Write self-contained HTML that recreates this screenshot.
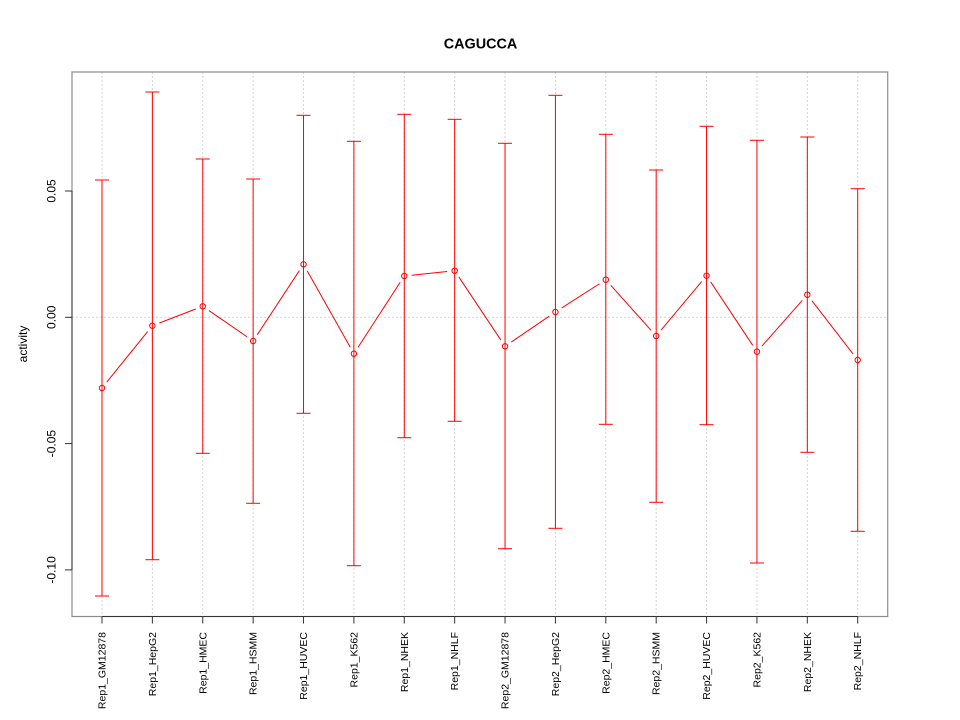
<!DOCTYPE html>
<html>
<head>
<meta charset="utf-8">
<style>
html,body{margin:0;padding:0;background:#fff;}
svg{display:block;}
text{font-family:"Liberation Sans",Arial,sans-serif;fill:#000;}
</style>
</head>
<body>
<svg width="960" height="720" viewBox="0 0 960 720" xmlns="http://www.w3.org/2000/svg">
<rect x="0" y="0" width="960" height="720" fill="#fff"/>
<!-- grid -->
<g stroke="#d3d3d3" stroke-width="1" stroke-dasharray="2,2" fill="none">
<line x1="102" y1="72" x2="102" y2="616.5"/>
<line x1="152.38" y1="72" x2="152.38" y2="616.5"/>
<line x1="202.76" y1="72" x2="202.76" y2="616.5"/>
<line x1="253.14" y1="72" x2="253.14" y2="616.5"/>
<line x1="303.52" y1="72" x2="303.52" y2="616.5"/>
<line x1="353.9" y1="72" x2="353.9" y2="616.5"/>
<line x1="404.28" y1="72" x2="404.28" y2="616.5"/>
<line x1="454.66" y1="72" x2="454.66" y2="616.5"/>
<line x1="505.04" y1="72" x2="505.04" y2="616.5"/>
<line x1="555.42" y1="72" x2="555.42" y2="616.5"/>
<line x1="605.8" y1="72" x2="605.8" y2="616.5"/>
<line x1="656.18" y1="72" x2="656.18" y2="616.5"/>
<line x1="706.56" y1="72" x2="706.56" y2="616.5"/>
<line x1="756.94" y1="72" x2="756.94" y2="616.5"/>
<line x1="807.32" y1="72" x2="807.32" y2="616.5"/>
<line x1="857.7" y1="72" x2="857.7" y2="616.5"/>
<line x1="72" y1="317.3" x2="887.7" y2="317.3"/>
</g>
<!-- error bars -->
<g stroke="#ff0000" stroke-width="1" fill="none">
<line x1="102" y1="180" x2="102" y2="596"/><line x1="95" y1="180" x2="109" y2="180"/><line x1="95" y1="596" x2="109" y2="596"/>
<line x1="152.38" y1="92" x2="152.38" y2="559.7"/><line x1="145.38" y1="92" x2="159.38" y2="92"/><line x1="145.38" y1="559.7" x2="159.38" y2="559.7"/>
<line x1="202.76" y1="159" x2="202.76" y2="453.3"/><line x1="195.76" y1="159" x2="209.76" y2="159"/><line x1="195.76" y1="453.3" x2="209.76" y2="453.3"/>
<line x1="253.14" y1="179" x2="253.14" y2="503.3"/><line x1="246.14" y1="179" x2="260.14" y2="179"/><line x1="246.14" y1="503.3" x2="260.14" y2="503.3"/>
<line x1="303.52" y1="115.3" x2="303.52" y2="413.3"/><line x1="296.52" y1="115.3" x2="310.52" y2="115.3"/><line x1="296.52" y1="413.3" x2="310.52" y2="413.3"/>
<line x1="353.9" y1="141.3" x2="353.9" y2="565.7"/><line x1="346.9" y1="141.3" x2="360.9" y2="141.3"/><line x1="346.9" y1="565.7" x2="360.9" y2="565.7"/>
<line x1="404.28" y1="114.3" x2="404.28" y2="437.7"/><line x1="397.28" y1="114.3" x2="411.28" y2="114.3"/><line x1="397.28" y1="437.7" x2="411.28" y2="437.7"/>
<line x1="454.66" y1="119.3" x2="454.66" y2="421.3"/><line x1="447.66" y1="119.3" x2="461.66" y2="119.3"/><line x1="447.66" y1="421.3" x2="461.66" y2="421.3"/>
<line x1="505.04" y1="143.3" x2="505.04" y2="548.7"/><line x1="498.04" y1="143.3" x2="512.04" y2="143.3"/><line x1="498.04" y1="548.7" x2="512.04" y2="548.7"/>
<line x1="555.42" y1="95.3" x2="555.42" y2="528.3"/><line x1="548.42" y1="95.3" x2="562.42" y2="95.3"/><line x1="548.42" y1="528.3" x2="562.42" y2="528.3"/>
<line x1="605.8" y1="134.3" x2="605.8" y2="424.3"/><line x1="598.8" y1="134.3" x2="612.8" y2="134.3"/><line x1="598.8" y1="424.3" x2="612.8" y2="424.3"/>
<line x1="656.18" y1="170" x2="656.18" y2="502.3"/><line x1="649.18" y1="170" x2="663.18" y2="170"/><line x1="649.18" y1="502.3" x2="663.18" y2="502.3"/>
<line x1="706.56" y1="126.3" x2="706.56" y2="424.7"/><line x1="699.56" y1="126.3" x2="713.56" y2="126.3"/><line x1="699.56" y1="424.7" x2="713.56" y2="424.7"/>
<line x1="756.94" y1="140.3" x2="756.94" y2="563"/><line x1="749.94" y1="140.3" x2="763.94" y2="140.3"/><line x1="749.94" y1="563" x2="763.94" y2="563"/>
<line x1="807.32" y1="137" x2="807.32" y2="452.3"/><line x1="800.32" y1="137" x2="814.32" y2="137"/><line x1="800.32" y1="452.3" x2="814.32" y2="452.3"/>
<line x1="857.7" y1="188.7" x2="857.7" y2="531.3"/><line x1="850.7" y1="188.7" x2="864.7" y2="188.7"/><line x1="850.7" y1="531.3" x2="864.7" y2="531.3"/>
</g>
<!-- connecting lines -->
<g stroke="#ff0000" stroke-width="1" fill="none">
<line x1="106.72" y1="382.17" x2="147.66" y2="331.53"/>
<line x1="159.38" y1="323.0" x2="195.76" y2="309.0"/>
<line x1="208.94" y1="310.55" x2="246.96" y2="336.75"/>
<line x1="257.26" y1="334.73" x2="299.4" y2="270.57"/>
<line x1="307.2" y1="270.83" x2="350.22" y2="347.17"/>
<line x1="357.98" y1="347.41" x2="400.2" y2="282.29"/>
<line x1="411.74" y1="275.22" x2="447.2" y2="271.48"/>
<line x1="458.82" y1="276.94" x2="500.88" y2="340.06"/>
<line x1="511.24" y1="342.08" x2="549.22" y2="316.22"/>
<line x1="561.73" y1="307.95" x2="599.49" y2="283.75"/>
<line x1="610.8" y1="285.29" x2="651.18" y2="330.41"/>
<line x1="660.99" y1="330.24" x2="701.75" y2="281.46"/>
<line x1="710.7" y1="281.95" x2="752.8" y2="345.45"/>
<line x1="761.91" y1="346.08" x2="802.35" y2="300.32"/>
<line x1="811.9" y1="300.64" x2="853.12" y2="354.06"/>
</g>
<!-- points -->
<g stroke="#ff0000" stroke-width="1" fill="none">
<circle cx="102" cy="388" r="2.7"/>
<circle cx="152.38" cy="325.7" r="2.7"/>
<circle cx="202.76" cy="306.3" r="2.7"/>
<circle cx="253.14" cy="341" r="2.7"/>
<circle cx="303.52" cy="264.3" r="2.7"/>
<circle cx="353.9" cy="353.7" r="2.7"/>
<circle cx="404.28" cy="276" r="2.7"/>
<circle cx="454.66" cy="270.7" r="2.7"/>
<circle cx="505.04" cy="346.3" r="2.7"/>
<circle cx="555.42" cy="312" r="2.7"/>
<circle cx="605.8" cy="279.7" r="2.7"/>
<circle cx="656.18" cy="336" r="2.7"/>
<circle cx="706.56" cy="275.7" r="2.7"/>
<circle cx="756.94" cy="351.7" r="2.7"/>
<circle cx="807.32" cy="294.7" r="2.7"/>
<circle cx="857.7" cy="360" r="2.7"/>
</g>
<!-- box -->
<rect x="72" y="72" width="815.7" height="544.5" fill="none" stroke="#8c8c8c" stroke-width="1.2"/>
<!-- axes -->
<g stroke="#333" stroke-width="1" fill="none">
<line x1="72" y1="191" x2="72" y2="569.9"/>
<line x1="65" y1="191" x2="72" y2="191"/>
<line x1="65" y1="317.3" x2="72" y2="317.3"/>
<line x1="65" y1="443.6" x2="72" y2="443.6"/>
<line x1="65" y1="569.9" x2="72" y2="569.9"/>
<line x1="102" y1="616.5" x2="857.7" y2="616.5"/>
<line x1="102" y1="616.5" x2="102" y2="623.5"/>
<line x1="152.38" y1="616.5" x2="152.38" y2="623.5"/>
<line x1="202.76" y1="616.5" x2="202.76" y2="623.5"/>
<line x1="253.14" y1="616.5" x2="253.14" y2="623.5"/>
<line x1="303.52" y1="616.5" x2="303.52" y2="623.5"/>
<line x1="353.9" y1="616.5" x2="353.9" y2="623.5"/>
<line x1="404.28" y1="616.5" x2="404.28" y2="623.5"/>
<line x1="454.66" y1="616.5" x2="454.66" y2="623.5"/>
<line x1="505.04" y1="616.5" x2="505.04" y2="623.5"/>
<line x1="555.42" y1="616.5" x2="555.42" y2="623.5"/>
<line x1="605.8" y1="616.5" x2="605.8" y2="623.5"/>
<line x1="656.18" y1="616.5" x2="656.18" y2="623.5"/>
<line x1="706.56" y1="616.5" x2="706.56" y2="623.5"/>
<line x1="756.94" y1="616.5" x2="756.94" y2="623.5"/>
<line x1="807.32" y1="616.5" x2="807.32" y2="623.5"/>
<line x1="857.7" y1="616.5" x2="857.7" y2="623.5"/>
</g>
<!-- y tick labels -->
<g font-size="12" text-anchor="middle">
<text transform="translate(55.5,191) rotate(-90)">0.05</text>
<text transform="translate(55.5,317.3) rotate(-90)">0.00</text>
<text transform="translate(55.5,443.6) rotate(-90)">-0.05</text>
<text transform="translate(55.5,569.9) rotate(-90)">-0.10</text>
</g>
<text font-size="12" text-anchor="middle" transform="translate(27,344) rotate(-90)">activity</text>
<!-- x labels -->
<g font-size="10.5" text-anchor="end">
<text transform="translate(105.5,632) rotate(-90)">Rep1_GM12878</text>
<text transform="translate(155.88,632) rotate(-90)">Rep1_HepG2</text>
<text transform="translate(206.26,632) rotate(-90)">Rep1_HMEC</text>
<text transform="translate(256.64,632) rotate(-90)">Rep1_HSMM</text>
<text transform="translate(307.02,632) rotate(-90)">Rep1_HUVEC</text>
<text transform="translate(357.4,632) rotate(-90)">Rep1_K562</text>
<text transform="translate(407.78,632) rotate(-90)">Rep1_NHEK</text>
<text transform="translate(458.16,632) rotate(-90)">Rep1_NHLF</text>
<text transform="translate(508.54,632) rotate(-90)">Rep2_GM12878</text>
<text transform="translate(558.92,632) rotate(-90)">Rep2_HepG2</text>
<text transform="translate(609.3,632) rotate(-90)">Rep2_HMEC</text>
<text transform="translate(659.68,632) rotate(-90)">Rep2_HSMM</text>
<text transform="translate(710.06,632) rotate(-90)">Rep2_HUVEC</text>
<text transform="translate(760.44,632) rotate(-90)">Rep2_K562</text>
<text transform="translate(810.82,632) rotate(-90)">Rep2_NHEK</text>
<text transform="translate(861.2,632) rotate(-90)">Rep2_NHLF</text>
</g>
<!-- title -->
<text x="480.5" y="48.5" font-size="14.4" font-weight="bold" text-anchor="middle">CAGUCCA</text>
</svg>
</body>
</html>
